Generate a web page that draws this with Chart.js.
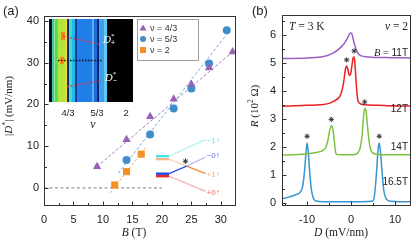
<!DOCTYPE html>
<html>
<head>
<meta charset="utf-8">
<script src="https://cdn.jsdelivr.net/npm/chart.js@4.4.0/dist/chart.umd.min.js"></script>
<style>
  html, body { margin: 0; padding: 0; background: #fff; }
  #wrap { position: relative; width: 416px; height: 243px; }
  #wrap canvas { position: absolute; left: 0; top: 0; }
</style>
</head>
<body>
<div id="wrap">
  <canvas id="chartA" width="416" height="243"></canvas>
  <canvas id="chartB" width="416" height="243"></canvas>
  <canvas id="inset" width="416" height="243"></canvas>
</div>
<script>
// ---------- panel (a): |D*| vs B ----------
const b43 = [9, 14, 18, 22, 25, 28, 32];
const d43 = [5.1, 11.6, 17.1, 21.3, 24.8, 28.8, 32.6];
const b53 = [14, 18, 22, 25, 28, 31];
const d53 = [6.7, 12.8, 19.0, 23.8, 29.8, 37.8];
const b2 = [12, 14, 16.5];
const d2 = [0.7, 3.9, 8.1];

// dashed guide lines (start, end)
const fit43 = [[9, 5.1], [32, 32.6]];
const fit53 = [[12.6, 3.5], [31, 36.8]];
const fit2 = [[11.2, -1.2], [17.2, 9.6]];
const zeroLine = [[0, 0], [20, 0]];

// level schematic, in (B, D) units
const levelX = [19, 21.2];
const levelY = [7.6, 6.9, 3.4, 2.8]; // cyan, peach, blue, red
const brCyan = [[21.2, 7.6], [27.4, 11.6]];
const brPeach = [[21.2, 6.9], [24.2, 5.2]];
const brOrange = [[24.2, 5.2], [27.4, 3.4]];
const brBlue = [[21.2, 3.4], [24.2, 5.2]];
const brBlueFade = [[24.2, 5.2], [27.4, 7.4]];
const brRed = [[21.2, 2.8], [27.4, -0.8]];
const crossStar = [[24.0, 6.4]];
const tagText = ["\u22121\u2191", "\u22120\u2191", "+1\u2191", "+0\u2191"];
const tagY = [11.4, 7.6, 3.1, -1.1];
const tagB = 29.8;

const aXMajor = [0, 5, 10, 15, 20, 25, 30];
const aXMinor = [2.5, 7.5, 12.5, 17.5, 22.5, 27.5];
const aYMajor = [0, 10, 20, 30, 40];
const aYMinor = [5, 15, 25, 35];

const legendText = ["\u03bd = 4/3", "\u03bd = 5/3", "\u03bd = 2"];

// ---------- inset: colour map vs nu ----------
const insetEdges = [1.115, 1.150, 1.175, 1.218, 1.299, 1.322, 1.345, 1.379, 1.414, 1.437, 1.609, 1.632, 1.667, 1.690, 1.747, 1.782, 2.08];
const insetColors = ["#0a0a2a", "#2ec8a0", "#58d858", "#b5e43a", "#f0dc2c", "#1a2a90", "#44e0b0", "#22b8f0", "#1a3aa0",
  "#1f7ee8", "#5aaef5", "#1c6ad8", "#10226a", "#3aa0ee", "#60c8f0", "#000000"];
const insetSpots = [[1.25, 1.30, 22, 31], [1.24, 1.29, -4, 4]]; // nu0, nu1, D0, D1
const dPlus = [[1.276, 26.3], [1.701, 17.6]];
const dMinus = [[1.322, -28.5], [1.701, -22]];
const dMid = [[1.218, 0], [1.735, 0]];
const insetTickVals = [4 / 3, 5 / 3, 2];
const insetTickText = ["4/3", "5/3", "2"];

// ---------- panel (b): R vs D ----------
const dB165 = [-15.7, -14, -12.5, -11.5, -11, -10.6, -10.3, -10, -9.7, -9.4, -9, -8.5, -8, -6, -2, 2, 4.8, 5.3, 5.7, 6.0, 6.2, 6.4, 6.7, 7.0, 7.4, 8, 9, 11, 13.4];
const rB165 = [0.15, 0.22, 0.3, 0.4, 0.6, 1.1, 1.7, 2.14, 1.75, 1.1, 0.45, 0.15, 0.07, 0.05, 0.05, 0.05, 0.06, 0.25, 0.9, 1.6, 2.0, 2.14, 1.8, 1.2, 0.5, 0.15, 0.06, 0.05, 0.05];
const dB14 = [-15.7, -12, -10, -8, -6.5, -5.8, -5.3, -4.9, -4.5, -4.1, -3.8, -3.5, -3.2, -2.5, 0, 1, 1.6, 2.1, 2.5, 2.8, 3.1, 3.4, 3.7, 4.1, 4.6, 5.5, 8, 13.4];
const rB14 = [1.71, 1.73, 1.76, 1.8, 1.87, 1.97, 2.2, 2.55, 2.75, 2.6, 2.2, 1.8, 1.73, 1.72, 1.72, 1.74, 1.8, 1.98, 2.4, 3.0, 3.38, 3.3, 2.8, 2.2, 1.85, 1.75, 1.72, 1.72];
const dB12 = [-15.7, -10, -7, -5, -4, -3, -2.5, -2, -1.6, -1.3, -1.0, -0.7, -0.4, -0.1, 0.2, 0.5, 0.7, 0.9, 1.2, 1.5, 2, 3, 6, 10, 13.4];
const rB12 = [3.45, 3.48, 3.5, 3.55, 3.62, 3.72, 3.82, 4.05, 4.4, 4.75, 4.88, 4.75, 4.55, 4.6, 4.9, 5.18, 5.2, 4.9, 4.2, 3.7, 3.55, 3.5, 3.48, 3.46, 3.46];
const dB11 = [-15.7, -10, -6, -4, -3, -2, -1.5, -1, -0.5, -0.2, 0.1, 0.4, 0.7, 1, 1.4, 2, 3, 5, 9, 13.4];
const rB11 = [5.15, 5.17, 5.23, 5.35, 5.46, 5.6, 5.7, 5.82, 5.98, 6.06, 6.05, 5.9, 5.7, 5.55, 5.38, 5.27, 5.22, 5.19, 5.18, 5.17];
const peakStars = [[-10, 2.38], [6.4, 2.38], [-4.5, 2.98], [3.1, 3.6], [-1.0, 5.1], [0.7, 5.42]];

const bXMajor = [-10, 0, 10];
const bXMinor = [-15, -5, 5];
const bYMajor = [0, 1, 2, 3, 4, 5, 6];
const bYMinor = [0.5, 1.5, 2.5, 3.5, 4.5, 5.5, 6.5];

const SANS = '"Liberation Sans", Arial, sans-serif';
const SERIF = '"Liberation Serif", "Times New Roman", serif';

const pts = (pairs) => pairs.map((p) => ({ x: p[0], y: p[1] }));
const zip = (xs, ys) => xs.map((x, i) => ({ x, y: ys[i] }));

function drawRich(ctx, parts, x, y, align, rot) {
  ctx.save();
  ctx.translate(x, y);
  if (rot) ctx.rotate(rot);
  ctx.textBaseline = "middle";
  ctx.textAlign = "left";
  let w = 0;
  parts.forEach((p) => {
    ctx.font = p.f;
    if (!p.stay) w += ctx.measureText(p.t).width;
  });
  let cx = align === "center" ? -w / 2 : align === "right" ? -w : 0;
  parts.forEach((p) => {
    ctx.font = p.f;
    ctx.fillStyle = p.c || "#222";
    ctx.fillText(p.t, cx, p.dy || 0);
    if (!p.stay) cx += ctx.measureText(p.t).width;
  });
  ctx.restore();
}

// text items: px coords, or data coords when data:true
const richText = (items) => ({
  id: "richText",
  afterDraw(chart) {
    items.forEach((it) => {
      let x = it.x, y = it.y;
      if (it.data) {
        x = chart.scales.x.getPixelForValue(it.x);
        y = chart.scales.y.getPixelForValue(it.y);
      }
      drawRich(chart.ctx, it.parts, x, y, it.align || "left", it.rot || 0);
    });
  },
});

// box frame + inward ticks
const frameTicks = (t) => ({
  id: "frameTicks",
  afterDraw(chart) {
    const { ctx, chartArea: a, scales: { x, y } } = chart;
    ctx.save();
    ctx.strokeStyle = "#333";
    ctx.lineWidth = 1;
    const l = Math.round(a.left) + 0.5, tp = Math.round(a.top) + 0.5;
    const r = Math.round(a.right) + 0.5, b = Math.round(a.bottom) + 0.5;
    ctx.strokeRect(l, tp, r - l, b - tp);
    ctx.beginPath();
    const xt = (vals, len) => vals.forEach((v) => {
      const px = Math.round(x.getPixelForValue(v)) + 0.5;
      ctx.moveTo(px, b); ctx.lineTo(px, b - len);
    });
    const yt = (vals, len) => vals.forEach((v) => {
      const py = Math.round(y.getPixelForValue(v)) + 0.5;
      ctx.moveTo(l, py); ctx.lineTo(l + len, py);
    });
    xt(t.xMajor, 4); xt(t.xMinor, 2.5); yt(t.yMajor, 4); yt(t.yMinor, 2.5);
    ctx.stroke();
    ctx.restore();
  },
});

const markerColors = ["#9a62b6", "#3d8fca", "#f39021"];
const markerStyles = ["triangle", "circle", "rect"];

const legendBox = {
  id: "legendBox",
  afterDraw(chart) {
    const ctx = chart.ctx;
    ctx.save();
    ctx.strokeStyle = "#888";
    ctx.lineWidth = 0.8;
    ctx.strokeRect(137.5, 19.5, 61, 41);
    legendText.forEach((txt, i) => {
      const y = 28 + i * 11, x = 143;
      ctx.fillStyle = markerColors[i];
      ctx.beginPath();
      if (markerStyles[i] === "triangle") {
        ctx.moveTo(x, y - 3.5); ctx.lineTo(x + 3.6, y + 2.6); ctx.lineTo(x - 3.6, y + 2.6); ctx.closePath();
      } else if (markerStyles[i] === "circle") {
        ctx.arc(x, y, 3, 0, Math.PI * 2);
      } else {
        ctx.rect(x - 3, y - 3, 6, 6);
      }
      ctx.fill();
      ctx.fillStyle = "#333";
      ctx.font = "9px " + SANS;
      ctx.textBaseline = "middle";
      ctx.fillText(txt, 150, y + 0.5);
    });
    ctx.restore();
  },
};

const tickFont = { family: SANS, size: 11 };
const fixTicks = (vals) => (s) => { s.ticks = vals.map((v) => ({ value: v })); };
const baseOpts = {
  responsive: false,
  animation: false,
  events: [],
  plugins: { legend: { display: false }, tooltip: { enabled: false } },
};

// ---------- chart (a) ----------
const lineDs = (data, color, width, dash) => ({
  data: pts(data), showLine: true, borderColor: color, borderWidth: width,
  borderDash: dash || [], pointRadius: 0, fill: false,
});

const aDatasets = [
  { data: zip(b43, d43), showLine: false, pointStyle: "triangle", pointRadius: 4.8, backgroundColor: markerColors[0], borderWidth: 0 },
  { data: zip(b53, d53), showLine: false, pointStyle: "circle", pointRadius: 4, backgroundColor: markerColors[1], borderWidth: 0 },
  { data: zip(b2, d2), showLine: false, pointStyle: "rect", pointRadius: 5, backgroundColor: markerColors[2], borderWidth: 0 },
  { data: pts(crossStar), showLine: false, pointStyle: "star", pointRadius: 2.6, borderColor: "#333", borderWidth: 1 },
  lineDs(levelX.map((x) => [x, levelY[0]]), "#4fe3e8", 2.4),
  lineDs(levelX.map((x) => [x, levelY[1]]), "#f5b88a", 2.4),
  lineDs(levelX.map((x) => [x, levelY[2]]), "#2242e6", 2.4),
  lineDs(levelX.map((x) => [x, levelY[3]]), "#e62a2a", 2.4),
  lineDs(brBlue, "#2a50e8", 1.4),
  lineDs(brOrange, "#f08a3a", 1.4),
  lineDs(brCyan, "#c2f3f5", 1.4),
  lineDs(brPeach, "#f9d4b4", 1.4),
  lineDs(brBlueFade, "#b7c3f5", 1.4),
  lineDs(brRed, "#f6baba", 1.4),
  lineDs(fit43, "#a07cc4", 1, [3, 2]),
  lineDs(fit53, "#7ea6e0", 1, [3, 2]),
  lineDs(fit2, "#f4a462", 1, [3, 2]),
  lineDs(zeroLine, "#9a9a9a", 1.2, [3, 2.5]),
];

const tagColors = ["#55dfee", "#5a78f0", "#f8b070", "#f06a6a"];
const aText = [
  { x: 3, y: 11, parts: [{ t: "(a)", f: "13px " + SANS }] },
  { x: 9, y: 106, rot: -Math.PI / 2, align: "center", parts: [
    { t: "|", f: "11px " + SERIF }, { t: "D", f: "italic 11px " + SERIF },
    { t: "*", f: "8px " + SERIF, dy: -3 }, { t: "| (mV/nm)", f: "11px " + SERIF }] },
  { x: 134, y: 233, align: "center", parts: [{ t: "B", f: "italic 11.5px " + SERIF }, { t: " (T)", f: "11.5px " + SERIF }] },
].concat(tagText.map((t, i) => ({
  data: true, x: tagB, y: tagY[i], align: "right", parts: [{ t, f: "8px " + SANS, c: tagColors[i] }],
})));

new Chart(document.getElementById("chartA"), {
  type: "line",
  data: { datasets: aDatasets },
  options: Object.assign({}, baseOpts, {
    layout: { padding: { left: 0, top: 16, right: 181, bottom: 0 } },
    scales: {
      x: {
        type: "linear", min: 0, max: 32.4,
        afterBuildTicks: fixTicks(aXMajor), afterFit: (s) => { s.height = 38; },
        grid: { display: false, drawTicks: false }, border: { display: false },
        ticks: { font: tickFont, color: "#222", padding: 8, maxRotation: 0 },
      },
      y: {
        type: "linear", min: -4.1, max: 41.2,
        afterBuildTicks: fixTicks(aYMajor), afterFit: (s) => { s.width = 44; },
        grid: { display: false, drawTicks: false }, border: { display: false },
        ticks: { font: tickFont, color: "#222", padding: 5 },
      },
    },
  }),
  plugins: [frameTicks({ xMajor: aXMajor, xMinor: aXMinor, yMajor: aYMajor, yMinor: aYMinor }), legendBox, richText(aText)],
});

// ---------- inset ----------
const insetDatasets = [
  lineDs(dMid, "#111", 1.6, [1.5, 1.5]),
  lineDs(dPlus, "#d23a4c", 1.3, [2, 1.5]),
  lineDs(dMinus, "#d23a4c", 1.3, [2, 1.5]),
]
  .concat(insetSpots.map((s) => ({
    data: pts([[s[0], s[3]], [s[1], s[3]]]), borderWidth: 0, pointRadius: 0,
    backgroundColor: "#f08a20", fill: { target: { value: s[2] } },
  })))
  .concat(insetColors.map((c, i) => ({
    data: pts([[insetEdges[i], 45], [insetEdges[i + 1], 45]]), borderWidth: 0, pointRadius: 0,
    backgroundColor: c, fill: { target: { value: -45 } },
  })));

const dLabel = (sub) => [
  { t: "D", f: "italic 11px " + SERIF, c: "#fff" },
  { t: "*", f: "7px " + SERIF, c: "#fff", dy: -4, stay: true },
  { t: sub, f: "7px " + SANS, c: "#fff", dy: 3 },
];
const insetText = [
  { data: true, x: 1.735, y: 22, parts: dLabel("+") },
  { data: true, x: 1.755, y: -19, parts: dLabel("\u2212") },
  { x: 93, y: 125, align: "center", parts: [{ t: "\u03bd", f: "italic 12px " + SERIF }] },
];

new Chart(document.getElementById("inset"), {
  type: "line",
  data: { datasets: insetDatasets },
  options: Object.assign({}, baseOpts, {
    layout: { padding: { left: 49, top: 19, right: 283, bottom: 121 } },
    scales: {
      x: {
        type: "linear", min: insetEdges[0], max: insetEdges[insetEdges.length - 1],
        afterBuildTicks: fixTicks(insetTickVals), afterFit: (s) => { s.height = 20; },
        grid: { display: false, drawTicks: false }, border: { display: false },
        ticks: {
          font: { family: SANS, size: 9.5 }, color: "#222", padding: 6, maxRotation: 0,
          callback: (v) => insetTickText[insetTickVals.findIndex((t) => Math.abs(t - v) < 1e-6)],
        },
      },
      y: { type: "linear", min: -45, max: 45, display: false },
    },
  }),
  plugins: [richText(insetText)],
});

// ---------- chart (b) ----------
const curve = (xs, ys, color) => ({
  data: zip(xs, ys), showLine: true, borderColor: color, borderWidth: 1.5,
  pointRadius: 0, cubicInterpolationMode: "monotone", fill: false,
});

const bText = [
  { x: 252, y: 11, parts: [{ t: "(b)", f: "13px " + SANS }] },
  { x: 255, y: 106, rot: -Math.PI / 2, align: "center", parts: [
    { t: "R", f: "italic 11px " + SERIF }, { t: " (10", f: "11px " + SERIF },
    { t: "2", f: "7.5px " + SERIF, dy: -3.5 }, { t: " \u03a9)", f: "11px " + SERIF }] },
  { x: 341, y: 233, align: "center", parts: [{ t: "D", f: "italic 11.5px " + SERIF }, { t: " (mV/nm)", f: "11.5px " + SERIF }] },
  { x: 289, y: 27, parts: [{ t: "T", f: "italic 11.5px " + SERIF }, { t: " = 3 K", f: "11.5px " + SERIF }] },
  { x: 408, y: 27, align: "right", parts: [{ t: "\u03bd", f: "italic 11.5px " + SERIF }, { t: " = 2", f: "11.5px " + SERIF }] },
  { x: 408, y: 53, align: "right", parts: [{ t: "B", f: "italic 10.5px " + SERIF }, { t: " = ", f: "10.5px " + SERIF }, { t: "11T", f: "10px " + SANS }] },
  { x: 408, y: 109, align: "right", parts: [{ t: "12T", f: "10px " + SANS }] },
  { x: 408, y: 147, align: "right", parts: [{ t: "14T", f: "10px " + SANS }] },
  { x: 408, y: 182, align: "right", parts: [{ t: "16.5T", f: "10px " + SANS }] },
];

new Chart(document.getElementById("chartB"), {
  type: "line",
  data: {
    datasets: [
      { data: pts(peakStars), showLine: false, pointStyle: "star", pointRadius: 2.6, borderColor: "#333", borderWidth: 1 },
      curve(dB11, rB11, "#9b5ec4"),
      curve(dB12, rB12, "#ec2024"),
      curve(dB14, rB14, "#7dc242"),
      curve(dB165, rB165, "#3a94cf"),
    ],
  },
  options: Object.assign({}, baseOpts, {
    layout: { padding: { left: 245, top: 15, right: 6, bottom: 0 } },
    scales: {
      x: {
        type: "linear", min: -15.7, max: 13.4,
        afterBuildTicks: fixTicks(bXMajor), afterFit: (s) => { s.height = 38; },
        grid: { display: false, drawTicks: false }, border: { display: false },
        ticks: { font: tickFont, color: "#222", padding: 8, maxRotation: 0 },
      },
      y: {
        type: "linear", min: -0.07, max: 6.7,
        afterBuildTicks: fixTicks(bYMajor), afterFit: (s) => { s.width = 37; },
        grid: { display: false, drawTicks: false }, border: { display: false },
        ticks: { font: tickFont, color: "#222", padding: 6 },
      },
    },
  }),
  plugins: [frameTicks({ xMajor: bXMajor, xMinor: bXMinor, yMajor: bYMajor, yMinor: bYMinor }), richText(bText)],
});
</script>
</body>
</html>
